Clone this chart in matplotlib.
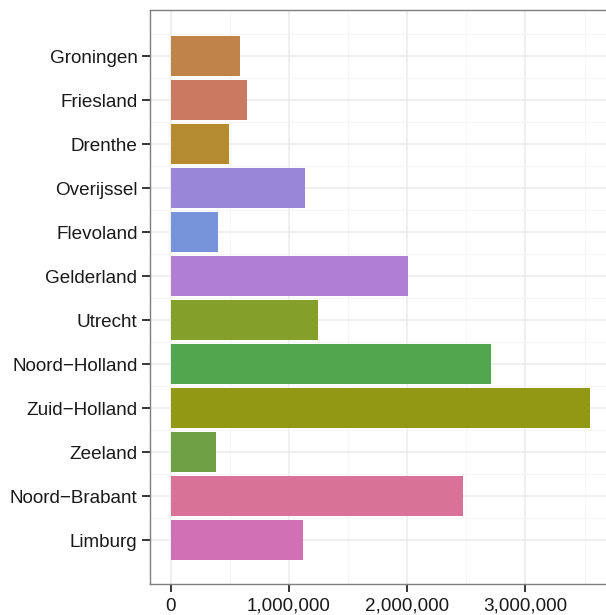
import matplotlib
matplotlib.use("Agg")
import matplotlib.pyplot as plt
from matplotlib.ticker import FuncFormatter, MultipleLocator

provinces = ["Groningen", "Friesland", "Drenthe", "Overijssel", "Flevoland",
             "Gelderland", "Utrecht", "Noord\u2212Holland", "Zuid\u2212Holland",
             "Zeeland", "Noord\u2212Brabant", "Limburg"]
population = [583000, 647000, 489000, 1140000, 401000, 2010000,
              1245000, 2710000, 3550000, 385000, 2470000, 1120000]
colors = ["#C0834A", "#CB7A61", "#B48B2F", "#9A86D8", "#7793DA", "#B07ED5",
          "#84A02A", "#52A64E", "#919914", "#6DA143", "#D87296", "#D270B5"]
xticks = [0, 1000000, 2000000, 3000000]

plt.rcParams["font.family"] = ["Liberation Sans", "DejaVu Sans"]

fig = plt.figure(figsize=(6.06, 6.15), dpi=100)
ax = fig.add_axes([150 / 606, 1 - 584 / 615, 470 / 606, 574 / 615])

ypos = list(range(len(provinces)))
ax.barh(ypos, population, height=0.9, color=colors, zorder=3)

ax.set_xlim(-175000, 3800000)
ax.set_ylim(len(provinces) - 1 + 1.0, -1.05)

ax.set_xticks(xticks)
ax.xaxis.set_major_formatter(FuncFormatter(lambda v, p: f"{int(v):,}"))
ax.xaxis.set_minor_locator(MultipleLocator(500000))
ax.set_yticks(ypos)
ax.set_yticklabels(provinces)
ax.set_yticks([y + 0.5 for y in ypos[:-1]] + [-0.5], minor=True)

ax.grid(which="major", color="#EBEBEB", linewidth=1.1, zorder=0)
ax.grid(which="minor", color="#F6F6F6", linewidth=0.8, zorder=0)

ax.tick_params(which="major", length=5.5, width=1.1, color="black",
               labelsize=13.6, labelcolor="#1a1a1a")
ax.tick_params(axis="y", which="major", pad=3.5)
ax.tick_params(axis="x", which="major", pad=4.5)
ax.tick_params(which="minor", length=0)

for side in ["left", "top", "bottom"]:
    ax.spines[side].set_color("#7F7F7F")
    ax.spines[side].set_linewidth(1.0)
ax.spines["right"].set_visible(False)

fig.savefig("out.png", dpi=100)
